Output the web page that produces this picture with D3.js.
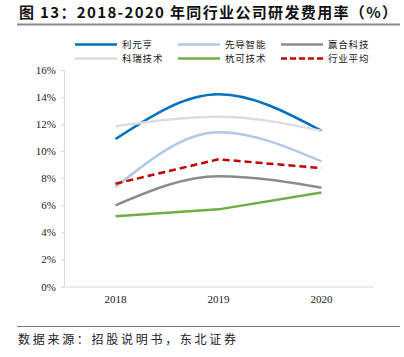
<!DOCTYPE html>
<html><head><meta charset="utf-8">
<script src="https://cdn.jsdelivr.net/npm/d3@7"></script>
<style>body{margin:0;background:#fff}svg{display:block}</style>
</head><body>
<svg id="c" width="404" height="357"></svg>
<script>
const years = ["2018", "2019", "2020"];
const yTicks = [0, 2, 4, 6, 8, 10, 12, 14, 16];
const seriesNames = ["利元亨", "先导智能", "赢合科技", "科瑞技术", "杭可技术", "行业平均"];
const liyuanheng = [10.9, 14.2, 11.5];
const xiandao = [7.35, 11.4, 9.25];
const yinghe = [6.0, 8.15, 7.3];
const kerui = [11.85, 12.55, 11.5];
const hangke = [5.2, 5.7, 6.95];
const average = [7.6, 9.4, 8.75];
const seriesValues = [liyuanheng, xiandao, yinghe, kerui, hangke, average];
const colors = ["#0070C0", "#B4C7E7", "#8C8C8C", "#DDDDDD", "#70AD47", "#C00000"];
const smooth = [true, true, true, true, false, false];
const dashed = [false, false, false, false, false, true];

const svg = d3.select("#c");
const serif = "'Liberation Serif','Times New Roman',serif";
const cjk = "'Noto Sans CJK SC',sans-serif";

// title
svg.append("text").attr("x", 19).attr("y", 18).attr("font-family", cjk)
  .attr("font-weight", "bold").attr("font-size", 15).attr("fill", "#111")
  .attr("textLength", 378).attr("lengthAdjust", "spacing")
  .text("图 13：2018-2020 年同行业公司研发费用率（%）");
svg.append("line").attr("x1", 17).attr("x2", 400).attr("y1", 24.5).attr("y2", 24.5)
  .attr("stroke", "#8a8a8a").attr("stroke-width", 2);

const x = d3.scaleBand().domain(years).range([64, 373]);
const y = d3.scaleLinear().domain([0, 16]).range([286.5, 70]);

// y axis
const ya = svg.append("g").attr("transform", "translate(64,0)")
  .call(d3.axisLeft(y).tickValues(yTicks).tickSize(3).tickFormat(d => d + "%"));
ya.select(".domain").attr("stroke", "#d9d9d9");
ya.selectAll(".tick line").attr("stroke", "#d9d9d9");
ya.selectAll("text").attr("font-family", serif).attr("font-size", 11).attr("fill", "#222").attr("x", -8);

// x axis
const xa = svg.append("g").attr("transform", "translate(0,286.5)")
  .call(d3.axisBottom(x).tickSize(0));
xa.select(".domain").attr("stroke", "#d9d9d9");
xa.selectAll("text").attr("font-family", serif).attr("font-size", 11).attr("fill", "#222").attr("dy", "1.2em");

const cx = d => x(d) + x.bandwidth() / 2;
seriesValues.forEach((vals, i) => {
  const line = d3.line().x((d, j) => cx(years[j])).y(d => y(d))
    .curve(smooth[i] ? d3.curveMonotoneX : d3.curveLinear);
  svg.append("path").datum(vals).attr("d", line).attr("fill", "none")
    .attr("stroke", colors[i]).attr("stroke-width", 2.5)
    .attr("stroke-dasharray", dashed[i] ? "7,4" : null);
});

// legend
const lx = [75, 178, 281];
const ly = [44.5, 58.5];
seriesNames.forEach((name, k) => {
  const col = k % 3, row = Math.floor(k / 3);
  const g = svg.append("g");
  g.append("line").attr("x1", lx[col]).attr("x2", lx[col] + 42).attr("y1", ly[row]).attr("y2", ly[row])
    .attr("stroke", colors[k]).attr("stroke-width", 2.5).attr("stroke-dasharray", dashed[k] ? "6,3" : null);
  g.append("text").attr("x", lx[col] + 47).attr("y", ly[row] + 3.4).attr("font-family", cjk)
    .attr("font-size", 9.5).attr("letter-spacing", 0.8).attr("fill", "#222").text(name);
});

// footer
svg.append("line").attr("x1", 17).attr("x2", 400).attr("y1", 326.5).attr("y2", 326.5)
  .attr("stroke", "#777").attr("stroke-width", 1);
svg.append("text").attr("x", 18).attr("y", 344).attr("font-family", cjk)
  .attr("font-size", 12).attr("fill", "#222")
  .attr("textLength", 218).attr("lengthAdjust", "spacing")
  .text("数据来源：招股说明书，东北证券");
</script>
</body></html>
